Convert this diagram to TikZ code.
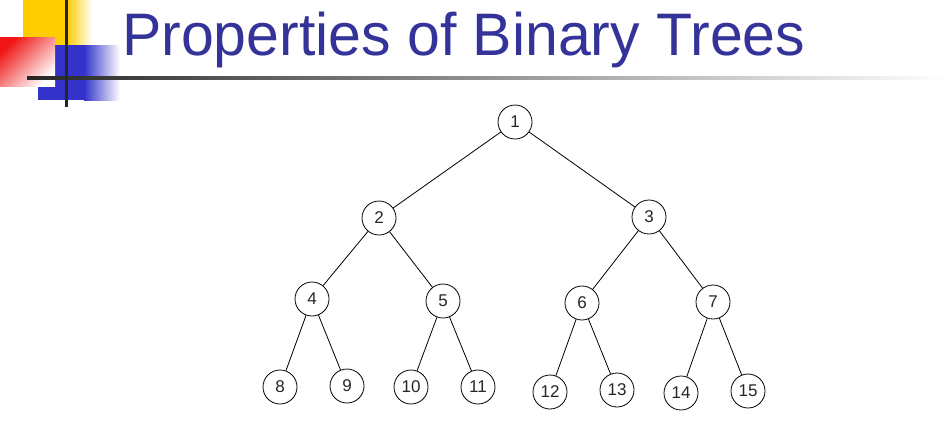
\documentclass[tikz,border=0pt]{standalone}
\usepackage{fontspec}
\setmainfont{Liberation Sans}
\usepackage{graphicx}
\definecolor{titleblue}{RGB}{51,51,153}
\definecolor{decoyellow}{RGB}{255,204,0}
\definecolor{decoblue}{RGB}{51,51,204}
\definecolor{decored}{RGB}{240,20,20}
\begin{document}
\begin{tikzpicture}[x=1bp,y=-1bp,
  tnode/.style={circle,draw=black,line width=0.8bp,minimum size=34bp,inner sep=0pt,
    font=\fontsize{17bp}{17bp}\selectfont,text=black!85},
  edge/.style={line width=0.8bp,draw=black}]
\useasboundingbox (0,0) rectangle (948,432);
\fill[white] (0,0) rectangle (948,432);
% decoration
\fill[decoyellow] (23,0) rectangle (67,45);
\shade[left color=decoyellow,right color=white] (67,0) rectangle (92,45);
\fill[decoblue] (38,45) rectangle (84,100);
\shade[left color=decoblue,right color=white] (84,45) rectangle (120,100);
\shade[top color=decored,bottom color=white,shading angle=45] (0,37) rectangle (55,86);
\shade[left color=black!85,right color=white] (27,76.5) rectangle (948,79.5);
\draw[line width=3bp,black!85] (66,0) -- (66,107);
% title
\node[anchor=base west,inner sep=0pt,text=titleblue] (title) at (122,55)
  {\resizebox{683bp}{\height}{\fontsize{60bp}{60bp}\selectfont Properties of Binary Trees}};
% tree
\node[tnode] (n1) at (515,122) {1};
\node[tnode] (n2) at (379,218) {2};
\node[tnode] (n3) at (649,217) {3};
\node[tnode] (n4) at (312,299) {4};
\node[tnode] (n5) at (443,301) {5};
\node[tnode] (n6) at (582,303) {6};
\node[tnode] (n7) at (713,302) {7};
\node[tnode] (n8) at (280,387) {8};
\node[tnode] (n9) at (347,386) {9};
\node[tnode] (n10) at (411,387) {10};
\node[tnode] (n11) at (478,387) {11};
\node[tnode] (n12) at (550,392) {12};
\node[tnode] (n13) at (617,390) {13};
\node[tnode] (n14) at (681,393) {14};
\node[tnode] (n15) at (748,391) {15};
\draw[edge] (n1) -- (n2);
\draw[edge] (n1) -- (n3);
\draw[edge] (n2) -- (n4);
\draw[edge] (n2) -- (n5);
\draw[edge] (n3) -- (n6);
\draw[edge] (n3) -- (n7);
\draw[edge] (n4) -- (n8);
\draw[edge] (n4) -- (n9);
\draw[edge] (n5) -- (n10);
\draw[edge] (n5) -- (n11);
\draw[edge] (n6) -- (n12);
\draw[edge] (n6) -- (n13);
\draw[edge] (n7) -- (n14);
\draw[edge] (n7) -- (n15);
\end{tikzpicture}
\end{document}
